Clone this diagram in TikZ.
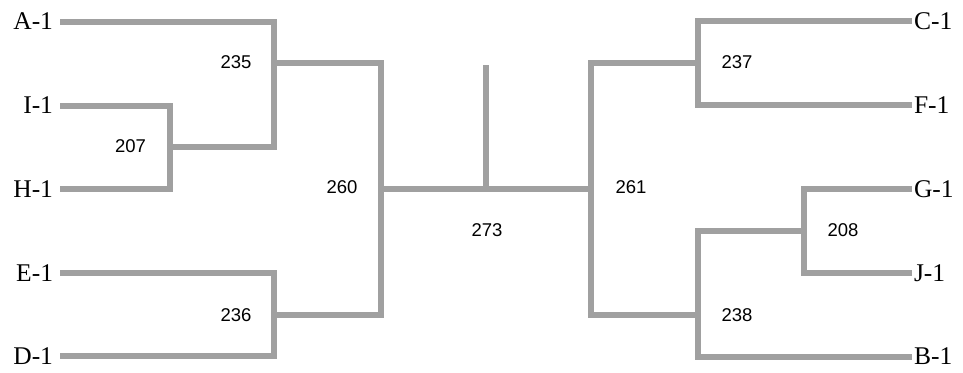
\documentclass[tikz,border=0pt]{standalone}
\usepackage{fontspec}
\setmainfont{Liberation Serif}
\setsansfont{Liberation Sans}

\begin{document}
\begin{tikzpicture}[
  x=1pt, y=-1pt,
  every node/.style={font=\sffamily\fontsize{18.5}{20}\selectfont},
  team/.style={font=\rmfamily\fontsize{25.5}{27}\selectfont,
               inner sep=0pt, text depth=0pt},
  bracket/.style={draw=linegray, line width=6pt, line join=miter},
]

\definecolor{linegray}{RGB}{160,160,160}

% ============================================================
% PAGE (pixel units, y downwards)
% ============================================================
\useasboundingbox (0,0) rectangle (963,372);

\def\leftx{60}     % where the left lines start
\def\rightx{912}   % where the right lines end

% ============================================================
% TEAMS
% name, label, y
% ============================================================
\foreach \name/\lbl/\ypos in {
  A1/A-1/21.5,
  I1/I-1/105.5,
  H1/H-1/189,
  E1/E-1/273,
  D1/D-1/356}{
  \node[team, anchor=east, outer xsep=7pt] (\name) at (\leftx,\ypos) {\lbl};
}

\foreach \name/\lbl/\ypos in {
  C1/C-1/21,
  F1/F-1/105,
  G1/G-1/189,
  J1/J-1/273,
  B1/B-1/356.5}{
  \node[team, anchor=west, outer xsep=2pt] (\name) at (\rightx,\ypos) {\lbl};
}

% ============================================================
% JOINS (x of the upright, y of the outgoing line)
% ============================================================
\coordinate (j207) at (170,146.7);
\coordinate (j235) at (274,62.7);
\coordinate (j236) at (274,315);
\coordinate (j260) at (380.7,188.7);
\coordinate (j273) at (486.3,65);   % top of the root stub
\coordinate (j261) at (591,188.7);
\coordinate (j237) at (697.5,63.3);
\coordinate (j238) at (697.5,315);
\coordinate (j208) at (803.5,231);

% ============================================================
% BRACKET LINES
% ============================================================
\foreach \from/\to in {
  A1.east/j235, I1.east/j207, H1.east/j207, j207/j235,
  E1.east/j236, D1.east/j236,
  j235/j260, j236/j260,
  j260/j273, j261/j273,
  j237/j261, j238/j261,
  C1.west/j237, F1.west/j237,
  G1.west/j208, J1.west/j208,
  j208/j238, B1.west/j238}{
  \draw[bracket] (\from) -| (\to);
}

% ============================================================
% SCORES
% ============================================================
\foreach \name/\val/\xpos/\ypos in {
  n207/207/130.5/146.5,
  n235/235/236/62,
  n236/236/236/315,
  n260/260/342/187.5,
  n273/273/487/230,
  n261/261/631/187.5,
  n237/237/737/62,
  n208/208/843/230.5,
  n238/238/737/315}{
  \node (\name) at (\xpos,\ypos) {\val};
}

\end{tikzpicture}
\end{document}
